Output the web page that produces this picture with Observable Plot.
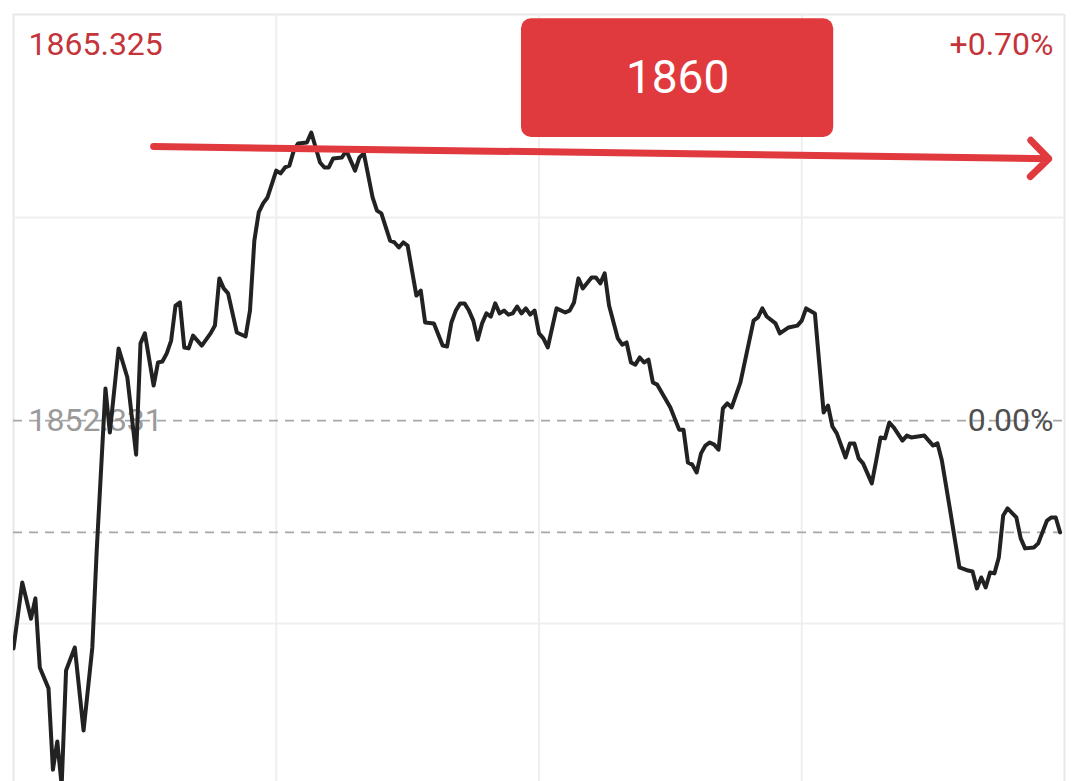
<!DOCTYPE html>
<html>
<head>
<meta charset="utf-8">
<script src="https://cdn.jsdelivr.net/npm/d3@7"></script>
<script src="https://cdn.jsdelivr.net/npm/@observablehq/plot@0.6"></script>
<style>
  html, body { margin: 0; padding: 0; background: #fff; }
  #chart { width: 1080px; height: 781px; overflow: hidden; }
</style>
</head>
<body>
<div id="chart"></div>
<script>
// Intraday minutes since open (0..240) and index level
const minutes = [0,2,4,5,6,8,9,10,11,12,14,16,18,19,21,22,24,26,28,29,30,32,33,34,35,36,37,38,39,40,41,43,45,46,47,48,49,51,53,54,55,56,57,58,60,61,62,63,64,65,67,68,70,71,72,73,75,76,78,79,80,82,83,84,86,87,88,89,90,92,93,94,96,98,99,100,101,102,103,104,105,106,107,108,109,110,111,112,113,114,115,116,117,118,119,120,121,122,124,126,127,128,129,130,132,133,134,135,136,138,139,140,141,142,143,144,145,146,147,150,152,153,154,155,156,157,158,159,160,161,162,163,164,166,169,170,171,172,174,175,177,179,180,181,183,184,185,186,187,188,190,191,192,193,194,196,197,198,199,200,201,203,204,205,208,210,211,212,214,215,216,218,219,220,221,222,223,224,225,226,227,229,230,231,233,234,236,237,238,239];
const prices = [1845.04,1847.15,1845.99,1846.64,1844.43,1843.76,1841.16,1842.06,1840.65,1844.33,1845.07,1842.41,1845.07,1848.17,1853.36,1851.95,1854.64,1853.71,1851.24,1854.80,1855.12,1853.45,1854.19,1854.22,1854.48,1854.89,1856.01,1856.11,1854.67,1854.64,1855.05,1854.73,1855.12,1855.37,1856.88,1856.56,1856.40,1855.15,1855.02,1855.85,1858.09,1858.99,1859.28,1859.47,1860.33,1860.24,1860.43,1860.49,1860.97,1861.20,1861.23,1861.55,1860.59,1860.43,1860.43,1860.72,1860.75,1860.97,1860.33,1860.75,1860.88,1859.47,1859.05,1858.96,1858.09,1858.03,1857.87,1858.03,1857.93,1856.33,1856.49,1855.47,1855.44,1854.73,1854.70,1855.47,1855.85,1856.08,1856.08,1855.85,1855.53,1854.92,1855.44,1855.76,1855.66,1856.08,1855.76,1855.85,1855.72,1855.76,1855.98,1855.76,1855.92,1855.72,1855.85,1855.12,1854.96,1854.67,1855.92,1855.79,1855.85,1856.11,1856.88,1856.56,1856.91,1856.91,1856.72,1857.04,1856.01,1854.96,1854.76,1854.83,1854.19,1854.12,1854.35,1854.19,1854.28,1853.55,1853.48,1852.75,1852.04,1852.04,1850.99,1850.92,1850.67,1851.28,1851.53,1851.63,1851.56,1851.40,1852.72,1852.88,1852.75,1853.55,1855.53,1855.63,1855.92,1855.66,1855.44,1855.12,1855.31,1855.37,1855.53,1855.92,1855.76,1854.16,1852.59,1852.81,1852.14,1851.92,1851.15,1851.60,1851.60,1851.12,1850.96,1850.32,1851.05,1851.79,1851.76,1852.27,1852.11,1851.69,1851.85,1851.79,1851.85,1851.53,1851.60,1851.05,1849.36,1848.49,1847.63,1847.53,1847.50,1846.96,1847.31,1846.99,1847.47,1847.44,1847.95,1849.29,1849.52,1849.23,1848.56,1848.24,1848.27,1848.40,1849.13,1849.23,1849.23,1848.75];

const prevClose = 1852.331;          // 0.00% level
const highLevel = 1865.325;          // top of scale
const highPctLabel = "+0.70%";
const zeroPctLabel = "0.00%";
const refLevel = 1848.75;            // second dashed level
const lowVisible = 1840.78;          // lowest visible level (image is cropped)
const gridMinutes = [60, 120, 180];
const gridLevels = [1858.828, 1845.834];

// Annotation: target level box and arrow
const targetLabel = ["1860"];
const targetBox = [{m1: 116, m2: 187.3, p1: 1861.39, p2: 1865.19}];
const targetArrow = [{m1: 32, p1: 1861.10, m2: 236.4, p2: 1860.71}];

const data = minutes.map((m, i) => ({m, p: prices[i]}));

const chart = Plot.plot({
  width: 1080,
  height: 781,
  marginLeft: 13,
  marginRight: 16,
  marginTop: 14,
  marginBottom: 0,
  x: {domain: [0, 240], axis: null},
  y: {domain: [lowVisible, highLevel], axis: null},
  style: {fontFamily: "Roboto, 'Noto Sans', sans-serif", background: "#fff"},
  marks: [
    Plot.ruleX([0, 240], {stroke: "#e8e8e8", strokeWidth: 2}),
    Plot.ruleX(gridMinutes, {stroke: "#efefef", strokeWidth: 2}),
    Plot.ruleY([highLevel], {stroke: "#e8e8e8", strokeWidth: 2}),
    Plot.ruleY(gridLevels, {stroke: "#efefef", strokeWidth: 2}),
    Plot.ruleY([prevClose, refLevel], {stroke: "#a8a8a8", strokeWidth: 1.8, strokeDasharray: "9,7"}),
    Plot.text([highLevel], {x: 0, y: d => d, text: d => d.toFixed(3), dx: 15, dy: 30, textAnchor: "start", lineAnchor: "middle", fontSize: 32, fill: "#c4353b"}),
    Plot.text([highPctLabel], {x: 240, y: highLevel, text: d => d, dx: -11, dy: 30, textAnchor: "end", lineAnchor: "middle", fontSize: 32, fill: "#c4353b"}),
    Plot.text([prevClose], {x: 0, y: d => d, text: d => d.toFixed(3), dx: 15, textAnchor: "start", lineAnchor: "middle", fontSize: 32, fill: "#9a9a9a"}),
    Plot.text([zeroPctLabel], {x: 240, y: prevClose, text: d => d, dx: -11, textAnchor: "end", lineAnchor: "middle", fontSize: 32, fill: "#505050"}),
    Plot.line(data, {x: "m", y: "p", stroke: "#222", strokeWidth: 4, strokeLinejoin: "round", clip: true}),
    Plot.arrow(targetArrow, {x1: "m1", y1: "p1", x2: "m2", y2: "p2", stroke: "#e0393e", strokeWidth: 7, headAngle: 90, headLength: 5.5, strokeLinecap: "round"}),
    Plot.rect(targetBox, {x1: "m1", x2: "m2", y1: "p1", y2: "p2", fill: "#e03a3e", rx: 10}),
    Plot.text(targetLabel, {x: (targetBox[0].m1 + targetBox[0].m2) / 2, y: (targetBox[0].p1 + targetBox[0].p2) / 2, text: d => d, fontSize: 46, fill: "#fff", lineAnchor: "middle"})
  ]
});
document.getElementById("chart").append(chart);
</script>
</body>
</html>
